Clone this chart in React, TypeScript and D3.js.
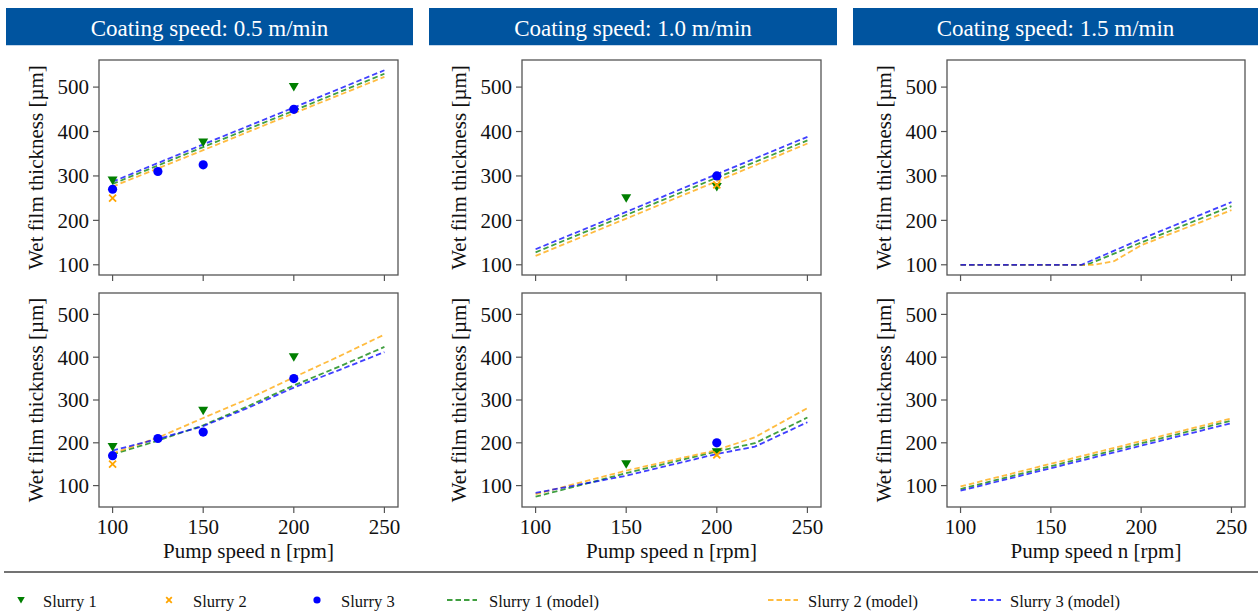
import React from 'react';
import * as d3 from 'd3';

// header labels and axis ticks
const speedLabels = ['Coating speed: 0.5 m/min', 'Coating speed: 1.0 m/min', 'Coating speed: 1.5 m/min'];
const pumpTicks = [100, 150, 200, 250];
const thicknessTicks = [100, 200, 300, 400, 500];

// measured points, one list per column (0.5, 1.0, 1.5 m/min) — top row
const slurry1Top = [[[100, 290], [150, 375], [200, 500]], [[150, 250], [200, 275]], []];
const slurry2Top = [[[100, 250]], [[200, 280]], []];
const slurry3Top = [[[100, 270], [125, 310], [150, 325], [200, 450]], [[200, 300]], []];

// measured points — bottom row
const slurry1Bottom = [[[100, 190], [150, 275], [200, 400]], [[150, 150], [200, 178]], []];
const slurry2Bottom = [[[100, 150]], [[200, 172]], []];
const slurry3Bottom = [[[100, 170], [125, 210], [150, 225], [200, 350]], [[200, 200]], []];

// model curves — top row
const model1Top = [
  [[100, 282], [150, 365], [200, 447], [250, 530]],
  [[100, 128], [150, 212], [200, 296], [250, 380]],
  [[100, 100], [170, 100], [200, 150], [250, 232]],
];
const model2Top = [
  [[100, 276], [150, 358], [200, 441], [250, 523]],
  [[100, 120], [150, 204], [200, 288], [250, 373]],
  [[100, 100], [174, 100], [185, 108], [200, 144], [250, 223]],
];
const model3Top = [
  [[100, 287], [150, 371], [200, 454], [250, 538]],
  [[100, 135], [150, 219], [200, 304], [250, 388]],
  [[100, 100], [167, 100], [200, 158], [250, 241]],
];

// model curves — bottom row
const model1Bottom = [
  [[100, 173], [125, 205], [150, 241], [175, 286], [200, 334], [225, 378], [250, 424]],
  [[100, 74], [150, 129], [200, 180], [221, 199], [250, 259]],
  [[100, 92], [250, 252]],
];
const model2Bottom = [
  [[100, 175], [125, 212], [150, 258], [175, 303], [200, 353], [225, 402], [250, 453]],
  [[100, 80], [150, 135], [200, 183], [221, 213], [250, 281]],
  [[100, 98], [250, 257]],
];
const model3Bottom = [
  [[100, 182], [125, 209], [150, 239], [175, 282], [200, 329], [225, 370], [250, 412]],
  [[100, 83], [150, 123], [200, 174], [221, 191], [250, 248]],
  [[100, 88], [250, 246]],
];

const GREEN = '#007f00';
const ORANGE = '#ffa500';
const BLUE = '#0000ff';
const FONT = '"Liberation Serif", "Times New Roman", serif';
const AXIS = '#555';

const cols = [
  { x0: 99, x1: 398 },
  { x0: 522, x1: 821 },
  { x0: 947, x1: 1245 },
];
const rows = [
  { y0: 60, y1: 275, domain: [77, 561], labels: false },
  { y0: 293, y1: 507, domain: [50, 550], labels: true },
];
const bars = [
  { x0: 6, x1: 413 },
  { x0: 429, x1: 837 },
  { x0: 853, x1: 1258 },
];

const Triangle = ({ x, y, s = 1 }) => (
  <path d={`M${x - 5 * s},${y - 4 * s}L${x + 5 * s},${y - 4 * s}L${x},${y + 4.5 * s}Z`} fill={GREEN} />
);
const Cross = ({ x, y, s = 1 }) => (
  <path
    d={`M${x - 3.5 * s},${y - 3.5 * s}L${x + 3.5 * s},${y + 3.5 * s}M${x - 3.5 * s},${y + 3.5 * s}L${x + 3.5 * s},${y - 3.5 * s}`}
    stroke={ORANGE}
    strokeWidth={1.8}
  />
);
const Dot = ({ x, y, r = 4.6 }) => <circle cx={x} cy={y} r={r} fill={BLUE} />;

const Panel = ({ col, row, ci, ri, pts, models }) => {
  const x = d3.scaleLinear().domain([92.5, 257.5]).range([col.x0, col.x1]);
  const y = d3.scaleLinear().domain(row.domain).range([row.y1, row.y0]);
  const line = d3
    .line()
    .x((d) => x(d[0]))
    .y((d) => y(d[1]));
  const modelColors = [GREEN, ORANGE, BLUE];
  const cx = (col.x0 + col.x1) / 2;
  const cy = (row.y0 + row.y1) / 2;
  return (
    <g>
      {models.map((m, i) => (
        <path
          key={i}
          d={line(m[ci])}
          fill="none"
          stroke={modelColors[i]}
          strokeOpacity={0.75}
          strokeWidth={1.8}
          strokeDasharray="5.5,3"
        />
      ))}
      {pts[0][ci].map((d, i) => (
        <Triangle key={'a' + i} x={x(d[0])} y={y(d[1])} />
      ))}
      {pts[1][ci].map((d, i) => (
        <Cross key={'b' + i} x={x(d[0])} y={y(d[1])} />
      ))}
      {pts[2][ci].map((d, i) => (
        <Dot key={'c' + i} x={x(d[0])} y={y(d[1])} />
      ))}
      <rect x={col.x0} y={row.y0} width={col.x1 - col.x0} height={row.y1 - row.y0} fill="none" stroke={AXIS} strokeWidth={1.3} />
      {thicknessTicks.map((t) => (
        <g key={t}>
          <line x1={col.x0 - 6} x2={col.x0} y1={y(t)} y2={y(t)} stroke={AXIS} strokeWidth={1.2} />
          <text x={col.x0 - 10} y={y(t)} dy="0.35em" textAnchor="end" fontSize={21} fill="#111">
            {t}
          </text>
        </g>
      ))}
      {pumpTicks.map((t) => (
        <g key={t}>
          <line x1={x(t)} x2={x(t)} y1={row.y1} y2={row.y1 + 6} stroke={AXIS} strokeWidth={1.2} />
          {row.labels && (
            <text x={x(t)} y={row.y1 + 27} textAnchor="middle" fontSize={21} fill="#111">
              {t}
            </text>
          )}
        </g>
      ))}
      <text transform={`translate(${col.x0 - 56},${cy}) rotate(-90)`} textAnchor="middle" fontSize={21} fill="#111">
        Wet film thickness [µm]
      </text>
      {row.labels && (
        <text x={cx} y={row.y1 + 51} textAnchor="middle" fontSize={21} fill="#111">
          Pump speed n [rpm]
        </text>
      )}
    </g>
  );
};

const legendItems = [
  { kind: 'tri', mx: 21, tx: 43, label: 'Slurry 1' },
  { kind: 'x', mx: 169, tx: 193, label: 'Slurry 2' },
  { kind: 'dot', mx: 317, tx: 341, label: 'Slurry 3' },
  { kind: 'line', color: GREEN, mx: 447, tx: 489, label: 'Slurry 1 (model)' },
  { kind: 'line', color: ORANGE, mx: 768, tx: 808, label: 'Slurry 2 (model)' },
  { kind: 'line', color: BLUE, mx: 971, tx: 1010, label: 'Slurry 3 (model)' },
];

export default function App() {
  const ptsTop = [slurry1Top, slurry2Top, slurry3Top];
  const ptsBottom = [slurry1Bottom, slurry2Bottom, slurry3Bottom];
  const modelsTop = [model1Top, model2Top, model3Top];
  const modelsBottom = [model1Bottom, model2Bottom, model3Bottom];
  const ly = 600;
  return (
    <svg
      width={1258}
      height={614}
      style={{ position: 'absolute', left: 0, top: 0, background: '#fff' }}
      fontFamily={FONT}
    >
      <rect width={1258} height={614} fill="#fff" />
      {bars.map((b, i) => (
        <g key={i}>
          <rect x={b.x0} y={8} width={b.x1 - b.x0} height={37} fill="#00549f" />
          <line x1={b.x0} x2={b.x1} y1={45.5} y2={45.5} stroke="#c4d6ea" strokeWidth={1} />
          <text x={(b.x0 + b.x1) / 2} y={36} textAnchor="middle" fontSize={23} fill="#fff">
            {speedLabels[i]}
          </text>
        </g>
      ))}
      {rows.map((row, ri) =>
        cols.map((col, ci) => (
          <Panel
            key={ri + '-' + ci}
            col={col}
            row={row}
            ci={ci}
            ri={ri}
            pts={ri === 0 ? ptsTop : ptsBottom}
            models={ri === 0 ? modelsTop : modelsBottom}
          />
        ))
      )}
      <line x1={4} x2={1258} y1={572} y2={572} stroke="#444" strokeWidth={1.6} />
      {legendItems.map((it, i) => (
        <g key={i}>
          {it.kind === 'tri' && <Triangle x={it.mx} y={ly} s={0.75} />}
          {it.kind === 'x' && <Cross x={it.mx} y={ly} s={0.8} />}
          {it.kind === 'dot' && <Dot x={it.mx} y={ly} r={3.6} />}
          {it.kind === 'line' && (
            <line
              x1={it.mx}
              x2={it.mx + 30}
              y1={ly}
              y2={ly}
              stroke={it.color}
              strokeOpacity={0.75}
              strokeWidth={1.8}
              strokeDasharray="5.5,3"
            />
          )}
          <text x={it.tx} y={ly + 6.5} fontSize={16.5} fill="#111">
            {it.label}
          </text>
        </g>
      ))}
    </svg>
  );
}
